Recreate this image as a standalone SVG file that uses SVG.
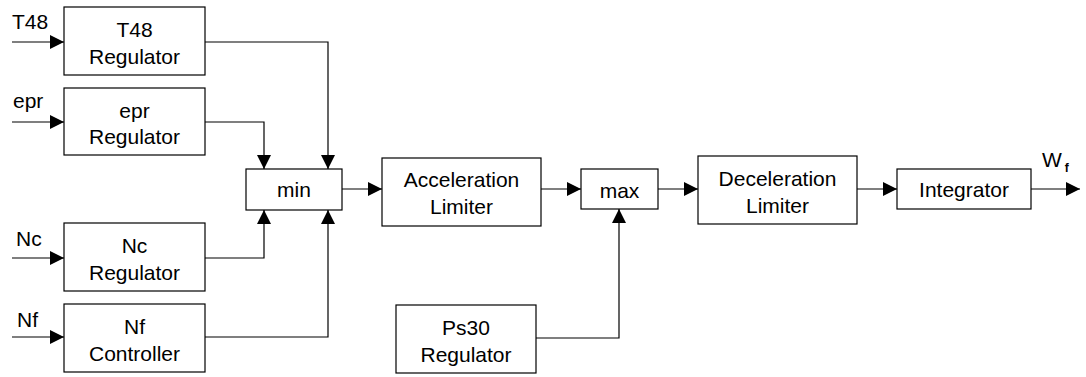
<svg xmlns="http://www.w3.org/2000/svg" width="1086" height="377" viewBox="0 0 1086 377">
<style>
.box{fill:#fff;stroke:#000;stroke-width:1.2}
.t{font-family:"Liberation Sans",Arial,sans-serif;font-size:21px;fill:#000;text-anchor:middle}
.l{font-family:"Liberation Sans",Arial,sans-serif;font-size:21px;fill:#000}
.c{fill:none;stroke:#000;stroke-width:1.2}
</style>
<defs>
<marker id="ah" markerUnits="userSpaceOnUse" markerWidth="14" markerHeight="14" refX="14" refY="7" orient="auto">
<path d="M0,0 L14,7 L0,14 Z" fill="#000"/>
</marker>
</defs>
<rect width="1086" height="377" fill="#fff"/>
<g id="connectors">
<path class="c" d="M12,42 H64" marker-end="url(#ah)"/>
<path class="c" d="M12,122 H64" marker-end="url(#ah)"/>
<path class="c" d="M12,258 H64" marker-end="url(#ah)"/>
<path class="c" d="M12,337 H64" marker-end="url(#ah)"/>
<path class="c" d="M205,42 H328 V169" marker-end="url(#ah)"/>
<path class="c" d="M205,122 H264 V169" marker-end="url(#ah)"/>
<path class="c" d="M205,258 H264 V210" marker-end="url(#ah)"/>
<path class="c" d="M205,337 H328 V210" marker-end="url(#ah)"/>
<path class="c" d="M342,189 H382" marker-end="url(#ah)"/>
<path class="c" d="M541,189 H581" marker-end="url(#ah)"/>
<path class="c" d="M536,338 H619 V209" marker-end="url(#ah)"/>
<path class="c" d="M658,189 H698" marker-end="url(#ah)"/>
<path class="c" d="M857,189 H897" marker-end="url(#ah)"/>
<path class="c" d="M1031,189 H1080" marker-end="url(#ah)"/>
<text class="l" x="12" y="29">T48</text>
<text class="l" x="13" y="108">epr</text>
<text class="l" x="16" y="246">Nc</text>
<text class="l" x="17" y="327">Nf</text>
<text class="l" x="1042" y="167">W<tspan font-size="12" font-weight="bold" dx="3" dy="5">f</tspan></text>
</g>
<g id="t48">
<rect class="box" x="64" y="7" width="141" height="68"/>
<text class="t" x="134.5" y="37">T48</text>
<text class="t" x="134.5" y="64">Regulator</text>
</g>
<g id="epr">
<rect class="box" x="64" y="88" width="141" height="67"/>
<text class="t" x="134.5" y="118">epr</text>
<text class="t" x="134.5" y="144">Regulator</text>
</g>
<g id="nc">
<rect class="box" x="64" y="223" width="141" height="68"/>
<text class="t" x="134.5" y="253">Nc</text>
<text class="t" x="134.5" y="280">Regulator</text>
</g>
<g id="nf">
<rect class="box" x="64" y="304" width="141" height="68"/>
<text class="t" x="134.5" y="334">Nf</text>
<text class="t" x="134.5" y="361">Controller</text>
</g>
<g id="min">
<rect class="box" x="246" y="169" width="96" height="41"/>
<text class="t" x="294" y="197">min</text>
</g>
<g id="accel">
<rect class="box" x="382" y="158" width="159" height="68"/>
<text class="t" x="461.5" y="187">Acceleration</text>
<text class="t" x="461.5" y="214">Limiter</text>
</g>
<g id="max">
<rect class="box" x="581" y="169" width="77" height="40"/>
<text class="t" x="619.5" y="198">max</text>
</g>
<g id="ps30">
<rect class="box" x="396" y="305" width="140" height="68"/>
<text class="t" x="466" y="335">Ps30</text>
<text class="t" x="466" y="362">Regulator</text>
</g>
<g id="decel">
<rect class="box" x="698" y="156" width="159" height="68"/>
<text class="t" x="777.5" y="186">Deceleration</text>
<text class="t" x="777.5" y="213">Limiter</text>
</g>
<g id="integrator">
<rect class="box" x="897" y="169" width="134" height="40"/>
<text class="t" x="964" y="197">Integrator</text>
</g>
</svg>
